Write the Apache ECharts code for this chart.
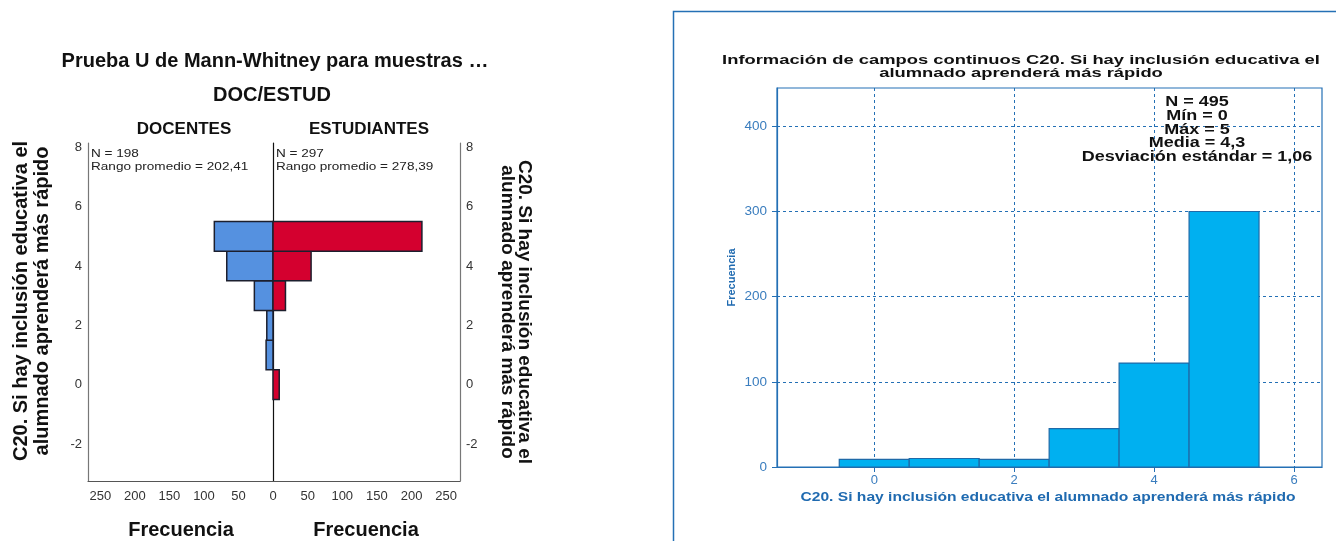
<!DOCTYPE html>
<html>
<head>
<meta charset="utf-8">
<script src="https://cdn.jsdelivr.net/npm/echarts@6/dist/echarts.min.js"></script>
<style>
html,body{margin:0;padding:0;background:#fff;}
#c{width:1336px;height:541px;}
</style>
</head>
<body>
<div id="c"></div>
<script>
// ---- data ----
const pyrValues = [0, 1, 2, 3, 4, 5];
const docentes = [0, 10, 9, 27, 67, 85];
const estudiantes = [9, 0, 0, 18, 55, 215];
const pyrYTicks = [-2, 0, 2, 4, 6, 8];
const histBins = [0, 1, 2, 3, 4, 5];
const histCounts = [9, 10, 9, 45, 122, 300];
const histXTicks = [0, 2, 4, 6];
const histYTicks = [0, 100, 200, 300, 400];
const statsLines = ['N = 495', 'Mín = 0', 'Máx = 5', 'Media = 4,3', 'Desviación estándar = 1,06'];

const FONT = '"Liberation Sans", Arial, sans-serif';
const BLUE = '#2470B5';

function pyrRender(color) {
  return function (params, api) {
    const c = api.value(0), v = api.value(1);
    if (!c) return null;
    const a = api.coord([0, v + 0.5]);
    const b = api.coord([c, v - 0.5]);
    return {
      type: 'rect',
      shape: { x: Math.min(a[0], b[0]), y: Math.min(a[1], b[1]), width: Math.abs(b[0] - a[0]), height: Math.abs(b[1] - a[1]) },
      style: { fill: color, stroke: '#1c1f2e', lineWidth: 1.5 }
    };
  };
}
function histRender(params, api) {
  const v = api.value(0), c = api.value(1);
  const a = api.coord([v - 0.5, c]);
  const b = api.coord([v + 0.5, 0]);
  return {
    type: 'rect',
    shape: { x: a[0], y: a[1], width: b[0] - a[0], height: b[1] - a[1] },
    style: { fill: '#00B0F0', stroke: '#1F6AA8', lineWidth: 1.2 }
  };
}
function txt(x, y, text, font, opts) {
  opts = opts || {};
  return {
    type: 'text', x: x, y: y, z: 10,
    rotation: opts.rotation || 0, scaleX: opts.scaleX || 1, scaleY: opts.scaleY || 1,
    style: { text: text, font: font + ' ' + FONT, fill: opts.fill || '#111', lineHeight: opts.lineHeight,
      textAlign: opts.align || 'center', textVerticalAlign: opts.valign || 'middle' }
  };
}

const chart = echarts.init(document.getElementById('c'), null, { renderer: 'canvas' });
const pyrYAxisBase = {
  type: 'value', min: -3.25, max: 8.15,
  axisTick: { show: false },
  splitLine: { show: false },
  axisLabel: { customValues: pyrYTicks, color: '#333', fontSize: 13, fontFamily: FONT, margin: 6 }
};
const option = {
  animation: false,
  textStyle: { fontFamily: FONT },
  grid: [
    { left: 88, top: 143, width: 185, height: 338 },
    { left: 273, top: 143, width: 187, height: 338 },
    { left: 777, top: 88, width: 545, height: 379, show: true, borderColor: BLUE, borderWidth: 1.2, backgroundColor: 'transparent' }
  ],
  xAxis: [
    { gridIndex: 0, type: 'value', min: 0, max: 268, interval: 50, inverse: true,
      axisLine: { onZero: false, lineStyle: { color: '#555', width: 1.2 } }, axisTick: { show: false }, splitLine: { show: false },
      axisLabel: { color: '#333', fontSize: 13, fontFamily: FONT, margin: 9 } },
    { gridIndex: 1, type: 'value', min: 0, max: 270, interval: 50,
      axisLine: { onZero: false, lineStyle: { color: '#555', width: 1.2 } }, axisTick: { show: false }, splitLine: { show: false },
      axisLabel: { color: '#333', fontSize: 13, fontFamily: FONT, margin: 9, formatter: v => v === 0 ? '' : String(v) } },
    { gridIndex: 2, type: 'value', min: -1.39, max: 6.4,
      axisLine: { onZero: false, lineStyle: { color: BLUE, width: 1.2 } },
      axisTick: { show: true, customValues: histXTicks, length: 5, lineStyle: { color: BLUE } },
      axisLabel: { customValues: histXTicks, color: '#3A7DBE', fontSize: 13, fontFamily: FONT, margin: 7 },
      splitLine: { show: true, lineStyle: { color: BLUE, type: [3, 3], width: 1 } } }
  ],
  yAxis: [
    Object.assign({}, pyrYAxisBase, { gridIndex: 0, position: 'left',
      axisLine: { show: true, onZero: false, lineStyle: { color: '#777', width: 1.2 } } }),
    Object.assign({}, pyrYAxisBase, { gridIndex: 1, position: 'right',
      axisLine: { show: true, onZero: false, lineStyle: { color: '#777', width: 1.2 } } }),
    { gridIndex: 1, type: 'value', min: -3.25, max: 8.15, position: 'left',
      axisLine: { show: true, onZero: false, lineStyle: { color: '#111', width: 1.2 } },
      axisTick: { show: false }, axisLabel: { show: false }, splitLine: { show: false } },
    { gridIndex: 2, type: 'value', min: 0, max: 445, interval: 100,
      axisLine: { show: true, onZero: false, lineStyle: { color: BLUE, width: 1.2 } },
      axisTick: { show: true, customValues: histYTicks, length: 5, lineStyle: { color: BLUE } },
      axisLabel: { customValues: histYTicks, color: '#3A7DBE', fontSize: 13.5, fontFamily: FONT, margin: 10 },
      splitLine: { show: true, lineStyle: { color: BLUE, type: [3, 3], width: 1 } },
      name: 'Frecuencia', nameLocation: 'middle', nameGap: 40,
      nameTextStyle: { color: '#1F6AB0', fontWeight: 'bold', fontSize: 11, fontFamily: FONT } }
  ],
  series: [
    { type: 'custom', name: 'DOCENTES', xAxisIndex: 0, yAxisIndex: 0, renderItem: pyrRender('#5591E0'),
      encode: { x: 0, y: 1 }, data: pyrValues.map((v, i) => [docentes[i], v]), z: 2 },
    { type: 'custom', name: 'ESTUDIANTES', xAxisIndex: 1, yAxisIndex: 1, renderItem: pyrRender('#D4002F'),
      encode: { x: 0, y: 1 }, data: pyrValues.map((v, i) => [estudiantes[i], v]), z: 2 },
    { type: 'custom', name: 'Frecuencia', xAxisIndex: 2, yAxisIndex: 3, renderItem: histRender,
      encode: { x: 0, y: 1 }, data: histBins.map((v, i) => [v, histCounts[i]]), z: 3 }
  ],
  graphic: [
    { type: 'rect', x: 673.5, y: 11.5, shape: { x: 0, y: 0, width: 720, height: 600 }, style: { fill: 'none', stroke: BLUE, lineWidth: 1.5 }, silent: true },
    txt(275, 61, 'Prueba U de Mann-Whitney para muestras …', 'bold 20px'),
    txt(272, 95, 'DOC/ESTUD', 'bold 20px'),
    txt(184, 129, 'DOCENTES', 'bold 17px'),
    txt(369, 129, 'ESTUDIANTES', 'bold 17px'),
    txt(91, 148, 'N = 198\nRango promedio = 202,41', '11.5px', { align: 'left', valign: 'top', lineHeight: 12.5, scaleX: 1.18, fill: '#222' }),
    txt(276, 148, 'N = 297\nRango promedio = 278,39', '11.5px', { align: 'left', valign: 'top', lineHeight: 12.5, scaleX: 1.18, fill: '#222' }),
    txt(32, 301, 'C20. Si hay inclusión educativa el\nalumnado aprenderá más rápido', 'bold 20px', { rotation: Math.PI / 2, lineHeight: 21 }),
    txt(516, 312, 'C20. Si hay inclusión educativa el\nalumnado aprenderá más rápido', 'bold 19px', { rotation: -Math.PI / 2, lineHeight: 17 }),
    txt(181, 530, 'Frecuencia', 'bold 20px'),
    txt(366, 530, 'Frecuencia', 'bold 20px'),
    txt(1021, 67, 'Información de campos continuos C20. Si hay inclusión educativa el\nalumnado aprenderá más rápido', 'bold 13.5px', { lineHeight: 13.5, scaleX: 1.36 }),
    txt(1197, 129.5, statsLines.join('\n'), 'bold 14.5px', { lineHeight: 13.8, scaleX: 1.24 }),
    txt(1048, 497, 'C20. Si hay inclusión educativa el alumnado aprenderá más rápido', 'bold 13px', { scaleX: 1.2, fill: '#1F6AB0' })
  ]
};
chart.setOption(option);
</script>
</body>
</html>
